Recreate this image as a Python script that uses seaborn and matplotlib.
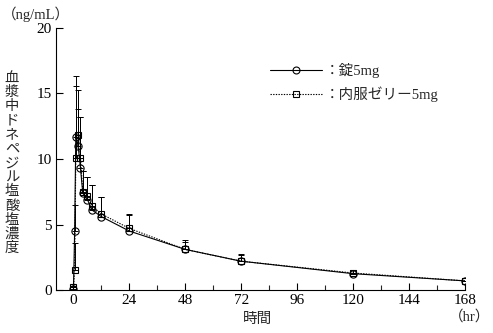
import numpy as np
import pandas as pd
import matplotlib
matplotlib.use("Agg")
import matplotlib.pyplot as plt
from matplotlib.lines import Line2D
from matplotlib.ticker import MultipleLocator
import seaborn as sns

# ---- data ----
time_hr = [0, 0.5, 1, 2, 3, 4, 6, 8, 12, 24, 48, 72, 120, 168]
tablet_mean = [0.1, 4.5, 11.7, 11.0, 9.3, 7.4, 6.9, 6.1, 5.6, 4.5, 3.1, 2.2, 1.25, 0.7]
tablet_sd = [0.1, 2.0, 4.6, 2.8, 3.9, 1.7, 1.7, 1.9, 1.5, 1.2, 0.7, 0.55, 0.25, 0.2]
jelly_mean = [0.2, 1.5, 10.1, 11.8, 10.1, 7.5, 7.2, 6.4, 5.8, 4.7, 3.1, 2.2, 1.3, 0.7]
jelly_sd = [0.1, 2.1, 5.5, 3.5, 3.1, 1.6, 1.4, 1.6, 1.3, 1.1, 0.6, 0.5, 0.25, 0.2]
x_ticks = [0, 24, 48, 72, 96, 120, 144, 168]
y_ticks = [0, 5, 10, 15, 20]
label_tablet = "：錠5mg"
label_jelly = "：内服ゼリー5mg"
y_label = "血漿中ドネペジル塩酸塩濃度"
x_label = "時間"
y_unit = "（ng/mL）"
x_unit = "（hr）"

sns.set_style("ticks")
fam = ["Liberation Serif", "Noto Sans CJK JP", "DejaVu Sans"]
plt.rcParams["font.family"] = fam

fig = plt.figure(figsize=(4.93, 3.33), dpi=100)
ax = fig.add_axes([0.1136, 0.129, 0.943 - 0.1136, 0.916 - 0.129])

df = pd.DataFrame({"t": time_hr * 2,
                   "c": tablet_mean + jelly_mean,
                   "g": [label_tablet] * len(time_hr) + [label_jelly] * len(time_hr)})

sns.lineplot(data=df[df.g == label_tablet], x="t", y="c", ax=ax, color="black",
             lw=0.8, marker="o", markersize=5.2, markerfacecolor="none",
             markeredgecolor="black", markeredgewidth=0.8, legend=False)
sns.lineplot(data=df[df.g == label_jelly], x="t", y="c", ax=ax, color="black",
             lw=0.8, linestyle=(0, (1.2, 1.2)), marker="s", markersize=4.3,
             markerfacecolor="none", markeredgecolor="black",
             markeredgewidth=0.8, legend=False)

z = [0] * len(time_hr)
ax.errorbar(time_hr, tablet_mean, yerr=[z, tablet_sd], fmt="none", ecolor="black",
            elinewidth=0.7, capsize=2, capthick=0.7)
ax.errorbar(time_hr, jelly_mean, yerr=[z, jelly_sd], fmt="none", ecolor="black",
            elinewidth=0.7, capsize=2, capthick=0.7)

ax.set_xlim(-7.5, 168)
ax.set_ylim(0, 20)
ax.set_xticks(x_ticks)
ax.set_yticks(y_ticks)
ax.xaxis.set_minor_locator(MultipleLocator(12))
ax.tick_params(axis="both", which="major", direction="in", length=5, width=0.8,
               labelsize=11, colors="black", pad=3)
ax.tick_params(axis="x", which="minor", direction="in", length=3.5, width=0.8)
for s in ["top", "right"]:
    ax.spines[s].set_visible(False)
for s in ["left", "bottom"]:
    ax.spines[s].set_linewidth(0.8)
    ax.spines[s].set_color("black")
ax.set_xlabel("")
ax.set_ylabel("")

# labels
fig.text(12 / 493, 1 - 163 / 333, "\n".join(y_label), ha="center", va="center",
         fontsize=10.3, family=["Noto Sans CJK JP"], linespacing=1.02)
fig.text(2 / 493, 1 - 14 / 333, y_unit, ha="left", va="center", fontsize=10.5,
         family=fam)
fig.text(258 / 493, 1 - 319 / 333, x_label, ha="center", va="center", fontsize=10.5,
         family=["Noto Sans CJK JP"])
fig.text(470 / 493, 1 - 317 / 333, x_unit, ha="center", va="center", fontsize=10.5,
         family=fam)

handles = [
    Line2D([], [], color="black", lw=0.8, marker="o", markersize=5,
           markerfacecolor="none", markeredgewidth=0.8),
    Line2D([], [], color="black", lw=0.8, linestyle=(0, (1.2, 1.2)), marker="s",
           markersize=4.3, markerfacecolor="none", markeredgewidth=0.8),
]
leg = ax.legend(handles, [label_tablet, label_jelly], loc="upper left",
                bbox_to_anchor=(264 / 493, 1 - 57 / 333), bbox_transform=fig.transFigure,
                frameon=False, handlelength=3.6, handletextpad=0.2, labelspacing=0.6,
                prop={"family": fam, "size": 10.5}, borderaxespad=0)

fig.savefig("out.png", dpi=100)
